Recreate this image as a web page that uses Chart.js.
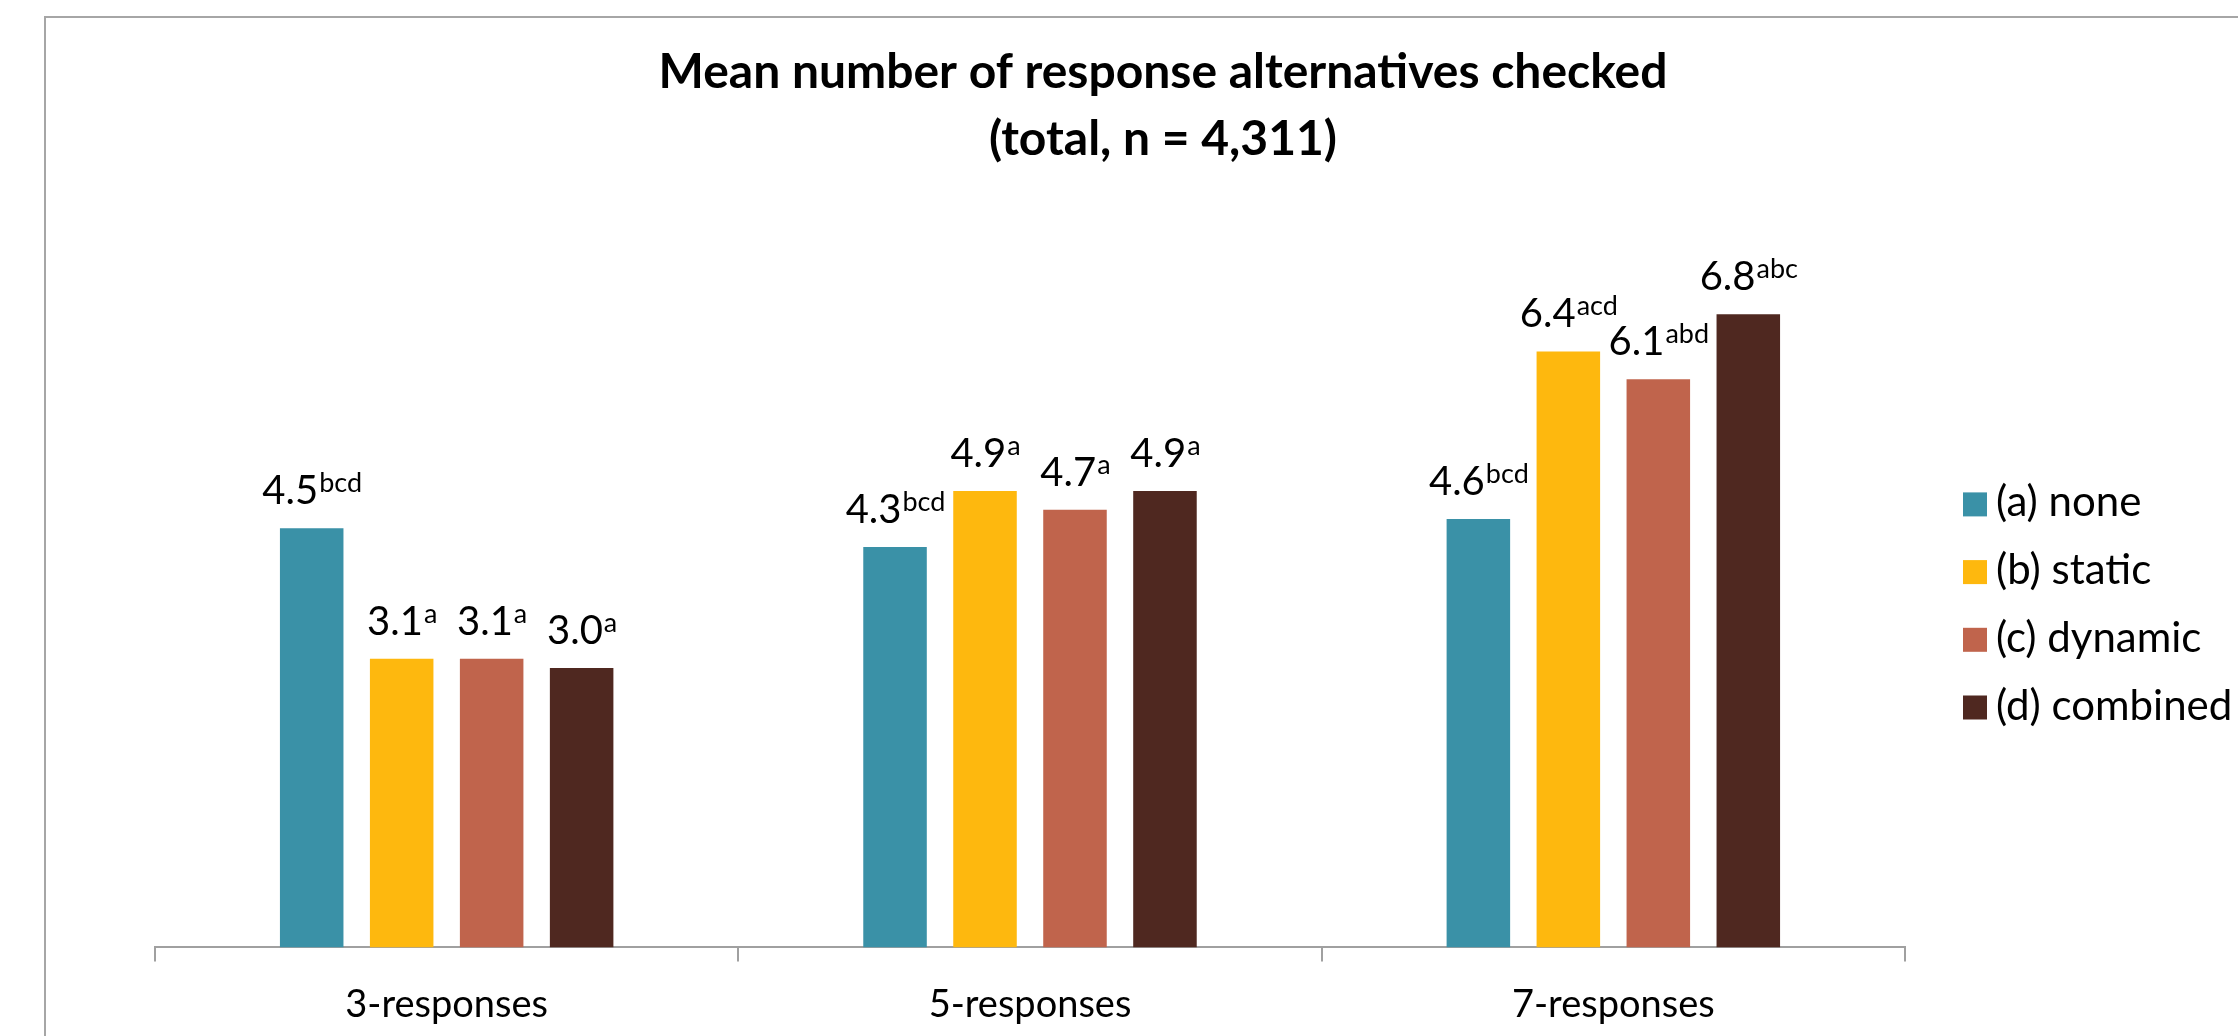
<!DOCTYPE html>
<html>
<head>
<meta charset="utf-8">
<script src="https://cdn.jsdelivr.net/npm/chart.js@4.4.1/dist/chart.umd.min.js"></script>
<style>
  html, body { margin: 0; padding: 0; background: #fff; overflow: hidden; }
  #frame { position: absolute; left: 44px; top: 16px; width: 2400px; height: 1100px;
           border-left: 2px solid #a6a6a6; border-top: 2px solid #a6a6a6; }
  #wrap { position: absolute; left: 0; top: 0; }
</style>
</head>
<body>
<div id="frame"></div>
<div id="wrap"><canvas id="chartMean" width="2238" height="1080"></canvas></div>
<script>
const categories = ['3-responses', '5-responses', '7-responses']
const seriesNames = ['(a) none', '(b) static', '(c) dynamic', '(d) combined']
const seriesColors = ['#3a91a7', '#feb80e', '#c0644c', '#4f2820']

const meanNone = [4.5, 4.3, 4.6]
const meanStatic = [3.1, 4.9, 6.4]
const meanDynamic = [3.1, 4.7, 6.1]
const meanCombined = [3.0, 4.9, 6.8]

// letters of the groups each mean differs from
const supNone = ['bcd', 'bcd', 'bcd']
const supStatic = ['a', 'a', 'acd']
const supDynamic = ['a', 'a', 'abd']
const supCombined = ['a', 'a', 'abc']

const allMeans = [meanNone, meanStatic, meanDynamic, meanCombined]
const allSups = [supNone, supStatic, supDynamic, supCombined]

const fontFamily = 'Lato, "Open Sans", sans-serif'
const axisGray = '#a0a0a0'

// value + superscript letters over every bar
const barLabels = {
    id: 'barLabels',
    afterDatasetsDraw(chart) {
        const ctx = chart.ctx
        ctx.save()
        ctx.fillStyle = '#000'
        ctx.textBaseline = 'alphabetic'
        ctx.textAlign = 'left'
        chart.data.datasets.forEach((ds, i) => {
            const meta = chart.getDatasetMeta(i)
            meta.data.forEach((bar, j) => {
                const num = ds.data[j].toFixed(1)
                const sup = allSups[i][j]
                ctx.font = '40px ' + fontFamily
                const wNum = ctx.measureText(num).width
                ctx.font = '27px ' + fontFamily
                const wSup = ctx.measureText(sup).width
                const x0 = bar.x - (wNum + wSup) / 2
                const base = bar.y - 24
                ctx.font = '40px ' + fontFamily
                ctx.fillText(num, x0, base)
                ctx.font = '27px ' + fontFamily
                ctx.fillText(sup, x0 + wNum + 1, base - 12)
            })
        })
        ctx.restore()
    }
}

// legend column to the right of the plot
const sideLegend = {
    id: 'sideLegend',
    afterDraw(chart) {
        const ctx = chart.ctx
        const area = chart.chartArea
        const x = area.right + 58
        const top = area.top + 290
        ctx.save()
        ctx.font = '42px ' + fontFamily
        ctx.textBaseline = 'alphabetic'
        ctx.textAlign = 'left'
        chart.data.datasets.forEach((ds, i) => {
            const y = top + i * 67.7
            ctx.fillStyle = ds.backgroundColor
            ctx.fillRect(x, y, 24, 24)
            ctx.fillStyle = '#000'
            ctx.fillText(ds.label, x + 33, y + 24)
        })
        ctx.restore()
    }
}

const datasets = seriesNames.map((name, i) => ({
    label: name,
    data: allMeans[i],
    backgroundColor: seriesColors[i],
    borderWidth: 0,
    categoryPercentage: 0.617,
    barPercentage: 0.706
}))

new Chart(document.getElementById('chartMean'), {
    type: 'bar',
    data: { labels: categories, datasets: datasets },
    plugins: [barLabels, sideLegend],
    options: {
        responsive: false,
        animation: false,
        layout: { padding: { left: 155, right: 67, top: 0, bottom: 31 } },
        scales: {
            x: {
                grid: {
                    offset: true,
                    drawOnChartArea: false,
                    drawTicks: true,
                    tickLength: 14,
                    color: axisGray,
                    lineWidth: 2
                },
                border: { display: true, color: axisGray, width: 2 },
                ticks: {
                    color: '#000',
                    padding: 21,
                    font: { family: fontFamily, size: 38 }
                }
            },
            y: {
                display: false,
                min: 0,
                max: 8
            },
            // empty strip on the right that holds the legend
            legendRoom: {
                type: 'linear',
                position: 'right',
                grid: { display: false },
                ticks: { display: false },
                border: { display: false },
                afterFit(scale) { scale.width = 266 }
            }
        },
        plugins: {
            legend: { display: false },
            tooltip: { enabled: false },
            title: {
                display: true,
                text: ['Mean number of response alternatives checked', '(total, n = 4,311)'],
                color: '#000',
                font: { family: fontFamily, size: 48, weight: 'bold', lineHeight: 1.4 },
                padding: { top: 39, bottom: 29 }
            }
        }
    }
});
</script>
</body>
</html>
